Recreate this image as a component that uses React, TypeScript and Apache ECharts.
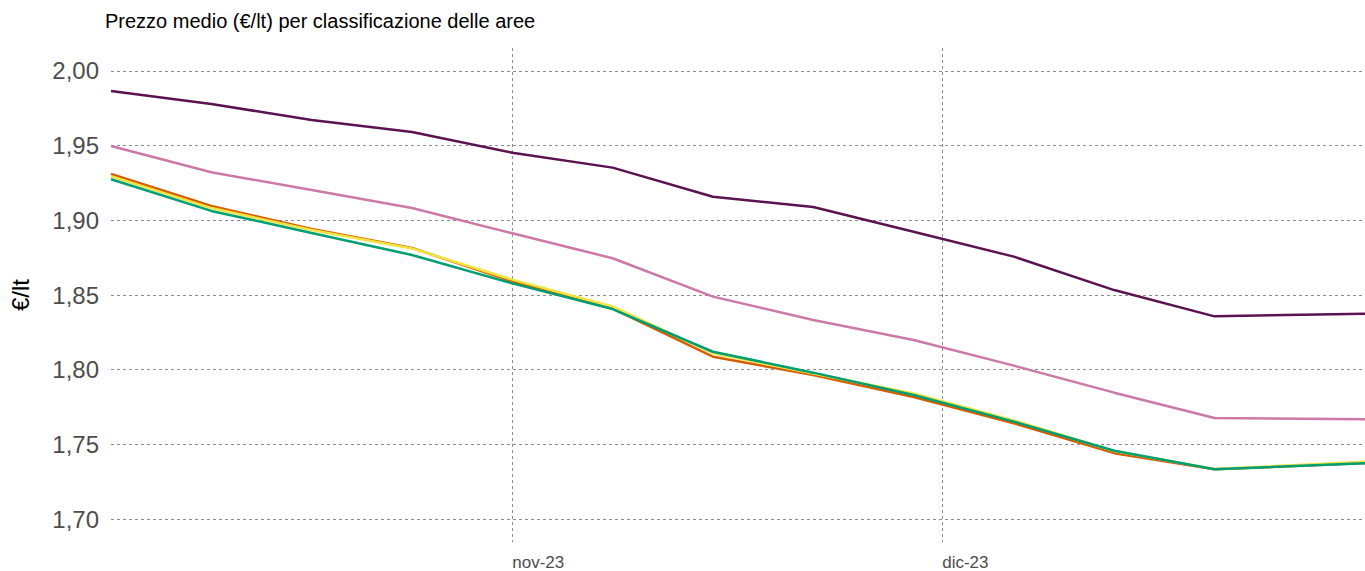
import React, { useEffect, useRef } from "react";
import * as echarts from "echarts";

const dates = [
  "2023-10-04", "2023-10-11", "2023-10-18", "2023-10-25", "2023-11-01",
  "2023-11-08", "2023-11-15", "2023-11-22", "2023-11-29", "2023-12-06",
  "2023-12-13", "2023-12-20", "2023-12-30T12:00:00",
];

const seriesNames = ["Area A", "Area B", "Area C", "Area D", "Area E"];

const purpleValues = [1.9866, 1.9779, 1.9672, 1.9592, 1.9453, 1.9353, 1.9158, 1.9089, 1.8924, 1.8757, 1.8533, 1.8357, 1.8375];
const pinkValues = [1.9498, 1.9322, 1.9203, 1.9083, 1.8913, 1.8746, 1.8489, 1.8333, 1.8199, 1.8027, 1.7846, 1.7676, 1.7668];
const orangeValues = [1.9310, 1.9096, 1.8942, 1.8815, 1.8590, 1.8408, 1.8087, 1.7964, 1.7817, 1.7641, 1.7441, 1.7333, 1.7375];
const yellowValues = [1.9295, 1.9082, 1.8935, 1.8812, 1.8603, 1.8423, 1.8110, 1.7975, 1.7840, 1.7660, 1.7455, 1.7335, 1.7383];
const greenValues = [1.9275, 1.9063, 1.8915, 1.8768, 1.8578, 1.8406, 1.8120, 1.7980, 1.7830, 1.7652, 1.7457, 1.7333, 1.7373];

const yTicks = [1.7, 1.75, 1.8, 1.85, 1.9, 1.95, 2.0];
const xTickDates = ["2023-11-01", "2023-12-01"];
const xTickLabels = ["nov-23", "dic-23"];

const colors = ["#5B1250", "#CC79A7", "#D55E00", "#F0E442", "#009E73"];

export default function App() {
  const ref = useRef<HTMLDivElement>(null);
  useEffect(() => {
    document.body.style.margin = "0";
    if (!ref.current) return;
    const chart = echarts.init(ref.current, null, { renderer: "svg" });
    const allValues = [purpleValues, pinkValues, orangeValues, yellowValues, greenValues];
    const ts = (d: string) => new Date(d).getTime();
    const xTickValues = xTickDates.map(ts);
    const font = "Liberation Sans, Arial, sans-serif";
    chart.setOption({
      animation: false,
      backgroundColor: "#ffffff",
      textStyle: { fontFamily: font },
      title: {
        text: "Prezzo medio (€/lt) per classificazione delle aree",
        left: 105,
        top: 11,
        padding: 0,
        textStyle: { fontSize: 20, fontWeight: "normal", color: "#000000", fontFamily: font },
      },
      grid: { left: 104, right: 0, top: 48, bottom: 29, containLabel: false },
      xAxis: {
        type: "value",
        min: ts(dates[0]),
        max: ts(dates[dates.length - 1]),
        axisLine: { show: false },
        axisTick: { show: false, customValues: xTickValues },
        axisLabel: {
          customValues: xTickValues,
          formatter: (v: number) => {
            const i = xTickValues.indexOf(v);
            return i >= 0 ? xTickLabels[i] : "";
          },
          align: "left",
          margin: 12,
          fontSize: 17,
          color: "#4d4d4d",
          showMinLabel: true,
          showMaxLabel: true,
        },
        splitLine: { show: true, lineStyle: { type: [3, 3], color: "#8c8c8c", width: 1 } },
      },
      yAxis: {
        type: "value",
        min: 1.6846,
        max: 2.0154,
        name: "€/lt",
        nameLocation: "middle",
        nameRotate: 90,
        nameGap: 79,
        nameTextStyle: { fontSize: 24, color: "#000000", fontFamily: font },
        axisLine: { show: false },
        axisTick: { show: false, customValues: yTicks },
        axisLabel: {
          customValues: yTicks,
          formatter: (v: number) => v.toFixed(2).replace(".", ","),
          fontSize: 24,
          color: "#4d4d4d",
          margin: 12,
        },
        splitLine: { show: true, lineStyle: { type: [3, 3], color: "#8c8c8c", width: 1 } },
      },
      series: allValues.map((vals, k) => ({
        name: seriesNames[k],
        type: "line",
        data: vals.map((v, i) => [ts(dates[i]), v]),
        showSymbol: false,
        symbol: "none",
        lineStyle: { color: colors[k], width: 2.5 },
        itemStyle: { color: colors[k] },
        z: 2 + k,
      })),
    });
    return () => chart.dispose();
  }, []);
  return <div ref={ref} style={{ width: 1365, height: 571 }} />;
}
